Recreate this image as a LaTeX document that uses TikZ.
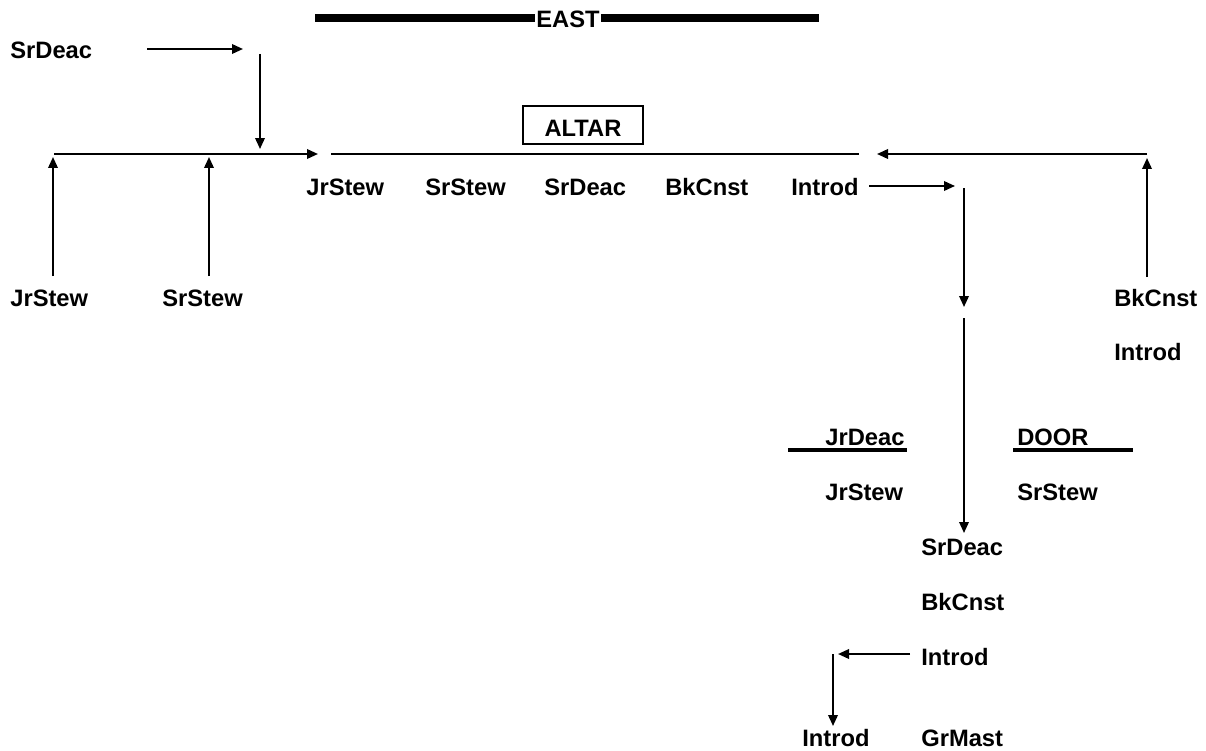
\documentclass[tikz,border=0pt]{standalone}
\usepackage{fontspec}
\setmainfont{Liberation Sans}
\usetikzlibrary{arrows.meta}
\tikzset{name it/.style={anchor=west, inner sep=0pt, font=\bfseries\fontsize{13.5}{16}\selectfont}}
\tikzset{walk/.style={line width=1.1pt, -{Triangle[length=0.22cm, width=0.19cm]}}}
\tikzset{wall/.style={line width=4pt}}
\tikzset{sill/.style={line width=2.8pt}}

\begin{document}
\begin{tikzpicture}[x=0.02cm, y=-0.02cm]
	\useasboundingbox (0,0) rectangle (1206,750);
	% east wall and altar
	\draw[wall] (315,18) -- (535,18);
	\draw[wall] (601,18) -- (819,18);
	\node[name it, anchor=center] (east) at (568,19) {EAST};
	\node[draw, line width=1.1pt, minimum width=2.4cm, minimum height=0.76cm, inner sep=0pt,
		text height=1.3em, text depth=0pt, font=\bfseries\fontsize{13.5}{16}\selectfont] (altar) at (583,125) {ALTAR};
	% officers
	\node[name it] (srdeacA) at (10,50) {SrDeac};
	\node[name it] (jrstewA) at (10,298) {JrStew};
	\node[name it] (srstewA) at (162,298) {SrStew};
	\node[name it] (jrstewB) at (306,187) {JrStew};
	\node[name it] (srstewB) at (425,187) {SrStew};
	\node[name it] (srdeacB) at (544,187) {SrDeac};
	\node[name it] (bkcnstB) at (665,187) {BkCnst};
	\node[name it] (introdB) at (791,187) {Introd};
	\node[name it] (bkcnstA) at (1114,298) {BkCnst};
	\node[name it] (introdA) at (1114,352) {Introd};
	\node[name it] (jrdeac) at (825,437) {JrDeac};
	\node[name it] (door) at (1017,437) {DOOR};
	\node[name it] (jrstewC) at (825,492) {JrStew};
	\node[name it] (srstewC) at (1017,492) {SrStew};
	\node[name it] (srdeacC) at (921,547) {SrDeac};
	\node[name it] (bkcnstC) at (921,602) {BkCnst};
	\node[name it] (introdC) at (921,657) {Introd};
	\node[name it] (introdD) at (802,738) {Introd};
	\node[name it] (grmast) at (921,738) {GrMast};
	% door sills
	\draw[sill] (788,450) -- (907,450);
	\draw[sill] (1013,450) -- (1133,450);
	% turning points
	\coordinate (a1) at (147,49);
	\coordinate (a2) at (243,49);
	\coordinate (b1) at (260,54);
	\coordinate (b2) at (260,149);
	\coordinate (c1) at (54,154);
	\coordinate (c2) at (318,154);
	\coordinate (d1) at (53,276);
	\coordinate (d2) at (53,157);
	\coordinate (e1) at (209,276);
	\coordinate (e2) at (209,157);
	\coordinate (f1) at (331,154);
	\coordinate (f2) at (859,154);
	\coordinate (g1) at (1147,154);
	\coordinate (g2) at (877,154);
	\coordinate (h1) at (1147,277);
	\coordinate (h2) at (1147,158);
	\coordinate (i1) at (869,186);
	\coordinate (i2) at (955,186);
	\coordinate (j1) at (964,188);
	\coordinate (j2) at (964,307);
	\coordinate (k1) at (964,318);
	\coordinate (k2) at (964,533);
	\coordinate (l1) at (910,654);
	\coordinate (l2) at (838,654);
	\coordinate (m1) at (833,654);
	\coordinate (m2) at (833,726);
	% the walk round the lodge
	\draw[walk] (a1) -- (a2);
	\draw[walk] (b1) -- (b2);
	\draw[walk] (c1) -- (c2);
	\draw[walk] (d1) -- (d2);
	\draw[walk] (e1) -- (e2);
	\draw[line width=1.1pt] (f1) -- (f2);
	\draw[walk] (g1) -- (g2);
	\draw[walk] (h1) -- (h2);
	\draw[walk] (i1) -- (i2);
	\draw[walk] (j1) -- (j2);
	\draw[walk] (k1) -- (k2);
	\draw[walk] (l1) -- (l2);
	\draw[walk] (m1) -- (m2);
\end{tikzpicture}
\end{document}
